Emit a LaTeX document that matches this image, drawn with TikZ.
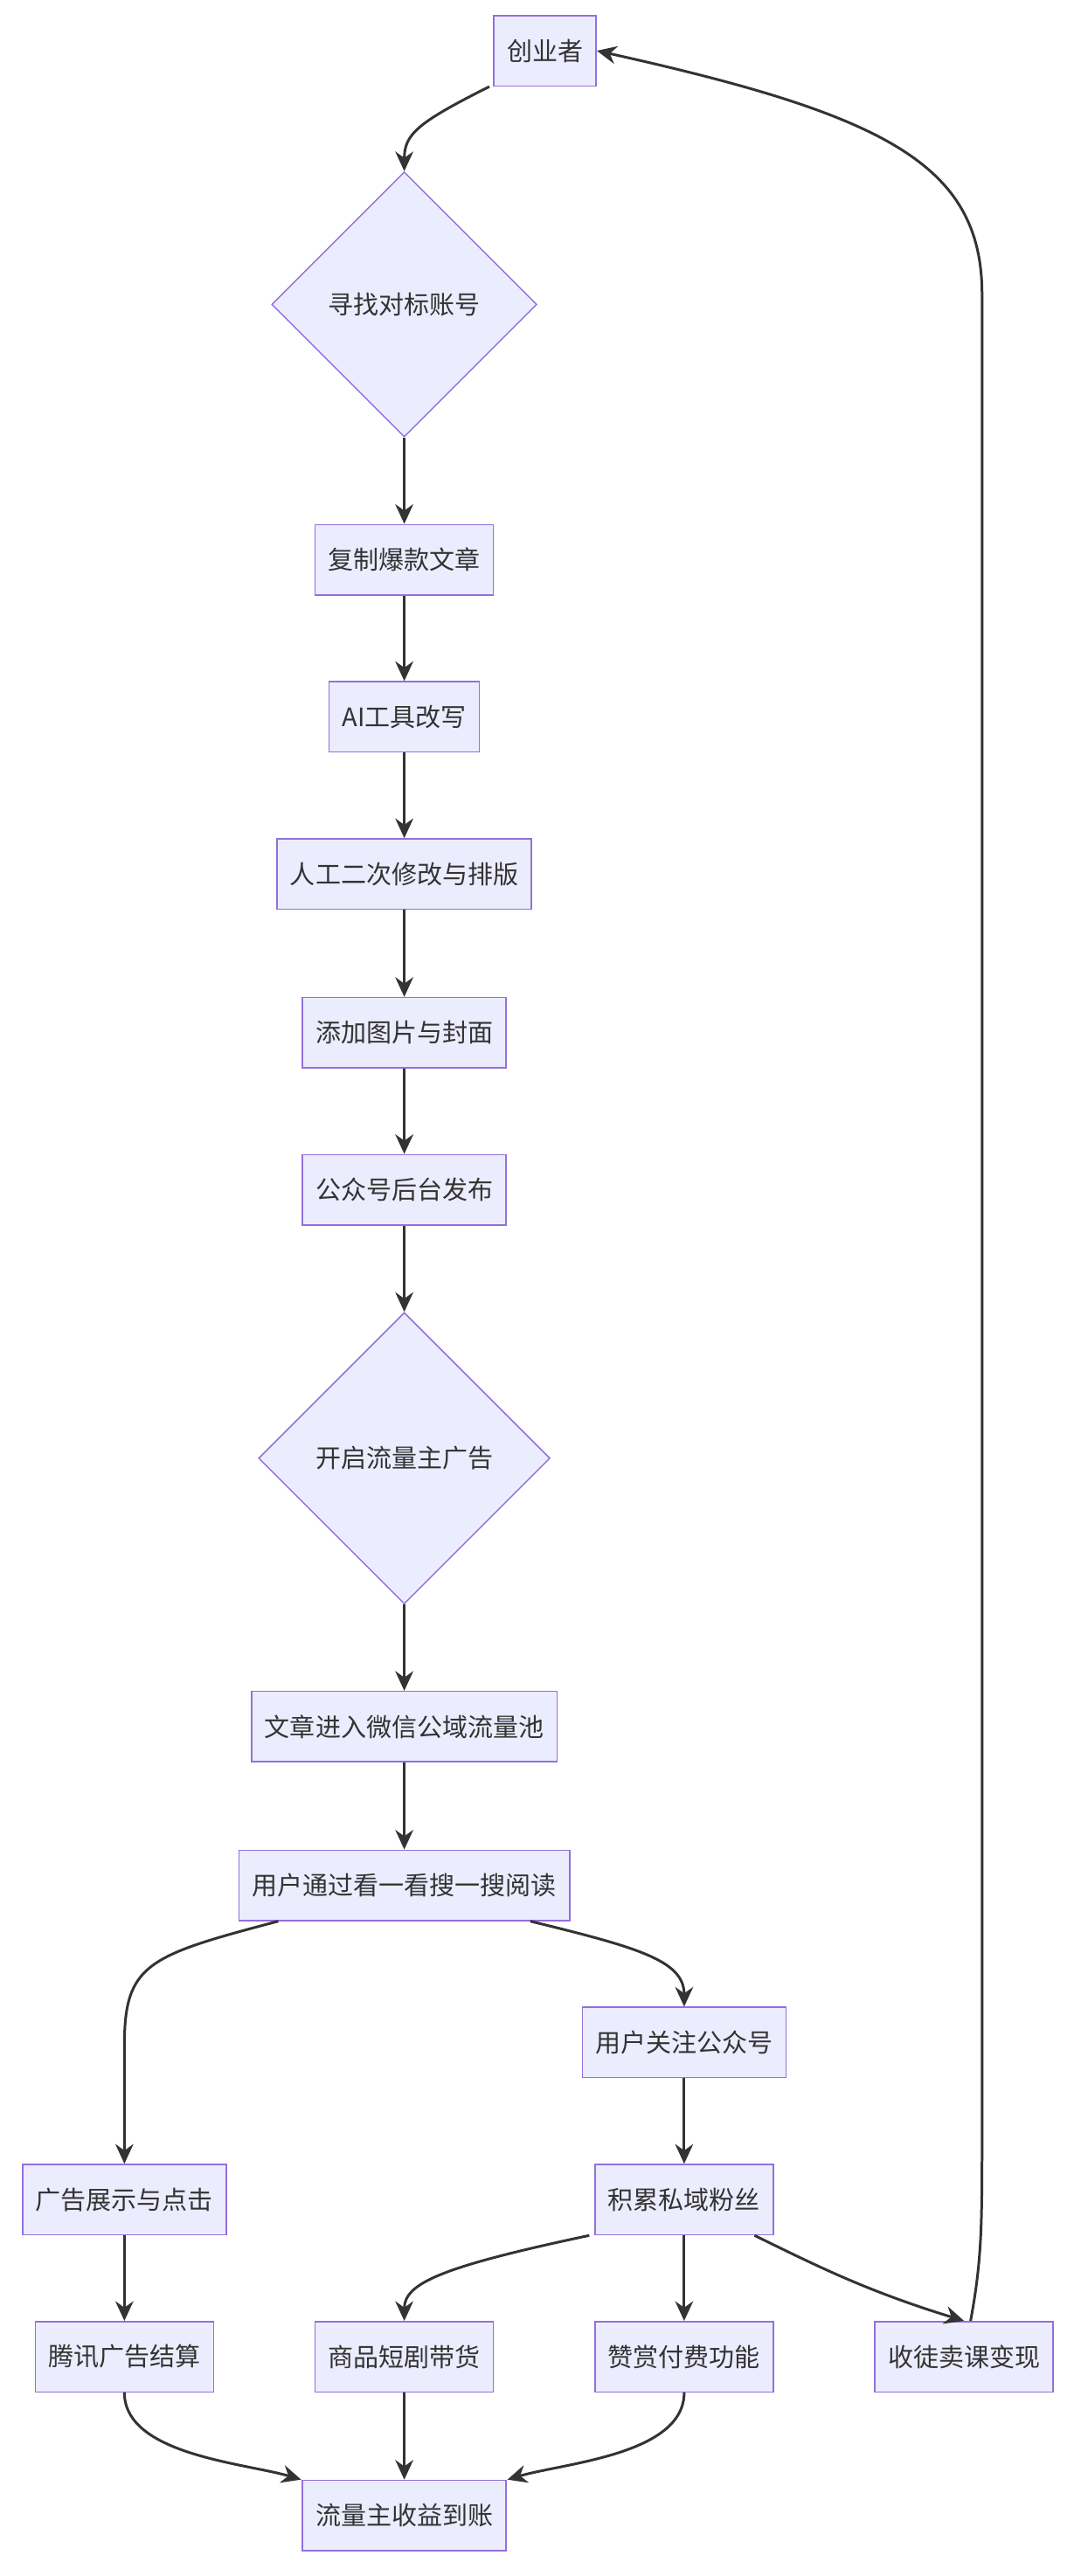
\documentclass[tikz,border=0pt]{standalone}
\usepackage{fontspec}
\setmainfont{Noto Sans CJK SC}
\usetikzlibrary{arrows.meta,shapes.geometric}
\definecolor{nodefill}{HTML}{ECECFF}
\definecolor{nodeline}{HTML}{9370DB}
\definecolor{edgeline}{HTML}{333333}
\begin{document}
\begin{tikzpicture}[x=1pt, y=-1pt,
	box/.style={draw=nodeline, fill=nodefill, line width=0.8pt, minimum height=43pt, inner xsep=8pt, font=\fontsize{15.5}{18}\selectfont, text=edgeline},
	choice/.style={diamond, draw=nodeline, fill=nodefill, line width=0.8pt, aspect=1, inner sep=2pt, font=\fontsize{15.5}{18}\selectfont, text=edgeline},
	flow/.style={draw=edgeline, line width=1.6pt, -{Stealth[length=12pt, width=11pt]}}]
	\useasboundingbox (0,0) rectangle (660,1574);
	\node[box] (founder) at (333,31) {创业者};
	\node[choice, minimum size=162pt] (find) at (247,186) {寻找对标账号};
	\node[box] (copy) at (247,342) {复制爆款文章};
	\node[box] (ai) at (247,438) {AI工具改写};
	\node[box] (edit) at (247,534) {人工二次修改与排版};
	\node[box] (image) at (247,631) {添加图片与封面};
	\node[box] (publish) at (247,727) {公众号后台发布};
	\node[choice, minimum size=178pt] (ads) at (247,891) {开启流量主广告};
	\node[box] (pool) at (247,1055) {文章进入微信公域流量池};
	\node[box] (read) at (247,1152) {用户通过看一看搜一搜阅读};
	\node[box] (follow) at (418,1248) {用户关注公众号};
	\node[box] (click) at (76,1344) {广告展示与点击};
	\node[box] (fans) at (418,1344) {积累私域粉丝};
	\node[box] (settle) at (76,1440) {腾讯广告结算};
	\node[box] (goods) at (247,1440) {商品短剧带货};
	\node[box] (reward) at (418,1440) {赞赏付费功能};
	\node[box] (course) at (589,1440) {收徒卖课变现};
	\node[box] (income) at (247,1537) {流量主收益到账};

	% main line
	\draw[flow] ([xshift=-34pt]founder.south) .. controls (255,75) and (247,82) .. (find.north);
	\draw[flow] (find.south) -- (copy);
	\draw[flow] (copy) -- (ai);
	\draw[flow] (ai) -- (edit);
	\draw[flow] (edit) -- (image);
	\draw[flow] (image) -- (publish);
	\draw[flow] (publish) -- (ads.north);
	\draw[flow] (ads.south) -- (pool);
	\draw[flow] (pool) -- (read);
	% branches
	\draw[flow] ([xshift=-77pt]read.south) .. controls (90,1195) and (76,1200) .. (76,1250) -- (click.north);
	\draw[flow] ([xshift=77pt]read.south) .. controls (390,1190) and (418,1198) .. (follow.north);
	\draw[flow] (follow) -- (fans);
	\draw[flow] (click) -- (settle);
	\draw[flow] ([xshift=-58pt]fans.south) .. controls (270,1385) and (247,1395) .. (goods.north);
	\draw[flow] (fans) -- (reward);
	\draw[flow] ([xshift=43pt]fans.south) .. controls (500,1385) and (530,1400) .. (course.north);
	\draw[flow] (settle.south) .. controls (76,1500) and (150,1505) .. ([xshift=-63pt]income.north);
	\draw[flow] (goods) -- (income);
	\draw[flow] (reward.south) .. controls (418,1500) and (344,1505) .. ([xshift=63pt]income.north);
	% loop back
	\draw[flow] ([xshift=4pt]course.north) .. controls (600,1380) and (600,1360) .. (600,1300) -- (600,180) .. controls (600,100) and (540,70) .. (founder.east);
\end{tikzpicture}
\end{document}
